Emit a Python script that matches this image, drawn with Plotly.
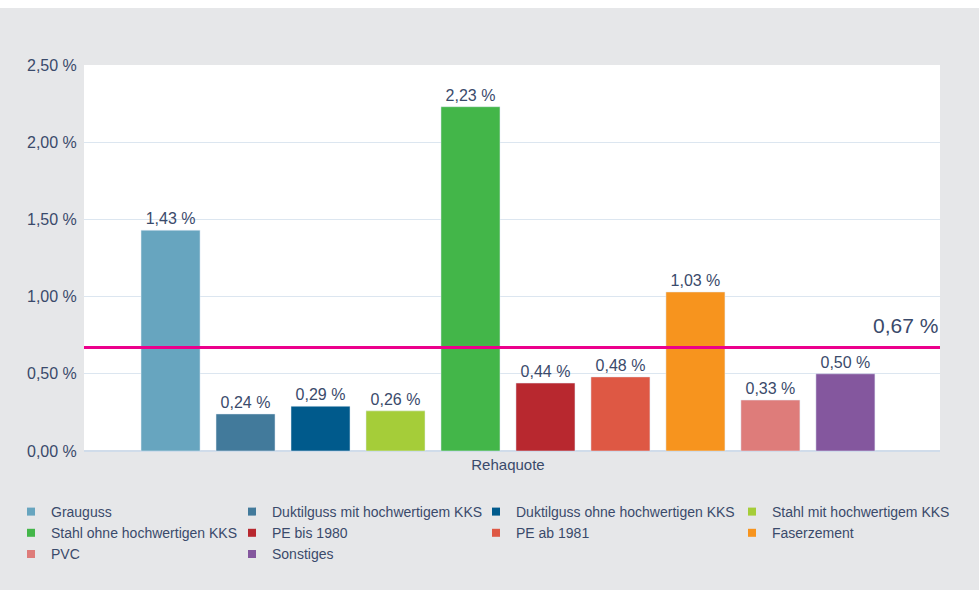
import plotly.graph_objects as go

category = ["Rehaquote"]
series_names = [
    "Grauguss",
    "Duktilguss mit hochwertigem KKS",
    "Duktilguss ohne hochwertigen KKS",
    "Stahl mit hochwertigem KKS",
    "Stahl ohne hochwertigen KKS",
    "PE bis 1980",
    "PE ab 1981",
    "Faserzement",
    "PVC",
    "Sonstiges",
]
series_values = [1.43, 0.24, 0.29, 0.26, 2.23, 0.44, 0.48, 1.03, 0.33, 0.50]
series_colors = [
    "#67a5bf", "#427a9b", "#005a8c", "#a5cd39", "#43b649",
    "#b8282f", "#de5844", "#f7941e", "#de7c7a", "#84579e",
]
average_value = 0.67
y_ticks = [0, 0.5, 1.0, 1.5, 2.0, 2.5]
y_tick_labels = [f"{v:.2f} %".replace(".", ",") for v in y_ticks]

legend_columns = ["legend", "legend2", "legend3", "legend4"]

FONT = "Liberation Sans, Arial, sans-serif"
TXT = "#3a4a6b"
GRAY = "#e6e7e9"
GRID = "#dce6f0"

W, H = 979, 582
ML, MR, MT, MB = 84, 39, 57, 139
pw = W - ML - MR
ph = H - MT - MB

fig = go.Figure()
for name, val, col in zip(series_names, series_values, series_colors):
    fig.add_trace(go.Bar(
        x=category, y=[val], name=name, marker_color=col,
        texttemplate="%{y:.2f} %", textposition="outside",
        textfont=dict(family=FONT, size=16, color=TXT),
        cliponaxis=False, showlegend=False,
    ))
for i, (name, col) in enumerate(zip(series_names, series_colors)):
    fig.add_trace(go.Scatter(
        x=category, y=[None], mode="markers", name=name,
        marker=dict(symbol="square", size=8, color=col),
        legend=legend_columns[i % 4], showlegend=True, hoverinfo="skip",
    ))

fig.add_shape(
    type="line", xref="paper", x0=0, x1=1, yref="y", y0=average_value, y1=average_value,
    line=dict(color="#ec008c", width=3), layer="above",
)
fig.add_annotation(
    x=1, xref="paper", y=average_value, yref="y", xanchor="right", yanchor="bottom",
    text=f"{average_value:.2f} %".replace(".", ","), showarrow=False, yshift=9,
    font=dict(family=FONT, size=21, color=TXT),
)

legend_text_x = [51, 272, 516, 772]
legend_top_px = 488
leg_common = dict(
    orientation="v", xanchor="left", yanchor="top",
    y=-(legend_top_px - (MT + ph)) / ph,
    bgcolor="rgba(0,0,0,0)", font=dict(family=FONT, size=14, color=TXT),
    tracegroupgap=0, itemclick=False, itemdoubleclick=False,
)
layout_legends = {}
for k, lname in enumerate(legend_columns):
    layout_legends[lname] = dict(leg_common, x=(legend_text_x[k] - 40 - ML) / pw)

fig.update_layout(
    width=W, height=H,
    margin=dict(l=ML, r=MR, t=MT, b=MB, autoexpand=False),
    paper_bgcolor=GRAY, plot_bgcolor="white",
    separators=", ",
    barmode="group", bargap=0.124, bargroupgap=0.213,
    font=dict(family=FONT, size=15, color=TXT),
    xaxis=dict(
        type="category", range=[-0.4953, 0.5047], showgrid=False,
        showline=True, linecolor="#d0dcea", linewidth=1, automargin=False,
        tickfont=dict(family=FONT, size=15, color=TXT), ticks="",
    ),
    yaxis=dict(
        range=[0, 2.5], tickmode="array", tickvals=y_ticks, ticktext=y_tick_labels,
        showgrid=True, gridcolor=GRID, gridwidth=1, zeroline=True, zerolinecolor="#d0dcea",
        tickfont=dict(family=FONT, size=16, color=TXT), ticks="outside", ticklen=3,
        tickcolor="rgba(0,0,0,0)", automargin=False,
    ),
    **layout_legends,
)

fig.write_html(
    "out.html",
    post_script="document.body.style.margin='8px 0 0 0';document.body.style.overflow='hidden';",
)
